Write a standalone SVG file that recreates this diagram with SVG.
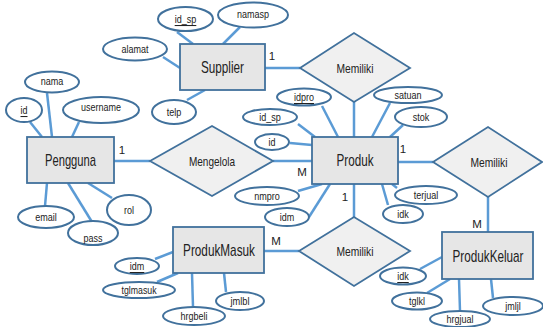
<svg xmlns="http://www.w3.org/2000/svg" width="543" height="327" viewBox="0 0 543 327">
<style>
.c{stroke:#5B9BD5;stroke-width:2.5;fill:none}
.e{fill:#ffffff;stroke:#41719C;stroke-width:2}
.r{fill:#E6E6E6;stroke:#41719C;stroke-width:1.8}
.d{fill:#F0F0F0;stroke:#41719C;stroke-width:1.8}
text{font-family:"Liberation Sans",Arial,sans-serif;fill:#222;text-anchor:middle;dominant-baseline:central}
.t{font-size:16px}
.m{font-size:13px}
.a{font-size:10.5px}
.l{font-size:11.5px}
.u{text-decoration:underline}
</style>
<rect width="543" height="327" fill="#ffffff"/>
<g id="connectors">
<line class="c" x1="177" y1="32" x2="193" y2="44"/>
<line class="c" x1="240" y1="27" x2="223" y2="44"/>
<line class="c" x1="163" y1="57" x2="180" y2="68"/>
<line class="c" x1="187" y1="100" x2="205" y2="90"/>
<line class="c" x1="265" y1="68" x2="300" y2="68"/>
<line class="c" x1="354" y1="102" x2="354" y2="137"/>
<line class="c" x1="322" y1="106" x2="338" y2="137"/>
<line class="c" x1="298" y1="124" x2="315" y2="137"/>
<line class="c" x1="290" y1="143" x2="312" y2="145"/>
<line class="c" x1="390" y1="103" x2="372" y2="137"/>
<line class="c" x1="403" y1="125" x2="390" y2="137"/>
<line class="c" x1="273" y1="161" x2="312" y2="161"/>
<line class="c" x1="298" y1="191" x2="322" y2="184"/>
<line class="c" x1="309" y1="217" x2="330" y2="184"/>
<line class="c" x1="397" y1="188" x2="392" y2="184"/>
<line class="c" x1="388" y1="205" x2="382" y2="184"/>
<line class="c" x1="114" y1="161" x2="150" y2="161"/>
<line class="c" x1="47" y1="93" x2="52" y2="137"/>
<line class="c" x1="30" y1="122" x2="42" y2="137"/>
<line class="c" x1="79" y1="122" x2="72" y2="137"/>
<line class="c" x1="47" y1="183" x2="45" y2="206"/>
<line class="c" x1="68" y1="183" x2="92" y2="222"/>
<line class="c" x1="88" y1="183" x2="112" y2="198"/>
<line class="c" x1="354" y1="184" x2="354" y2="217"/>
<line class="c" x1="264" y1="251" x2="299" y2="251"/>
<line class="c" x1="155" y1="259" x2="173" y2="252"/>
<line class="c" x1="157" y1="282" x2="178" y2="273"/>
<line class="c" x1="193" y1="307" x2="192" y2="273"/>
<line class="c" x1="226" y1="292" x2="224" y2="273"/>
<line class="c" x1="398" y1="162" x2="433" y2="162"/>
<line class="c" x1="488" y1="197" x2="488" y2="232"/>
<line class="c" x1="420" y1="269" x2="442" y2="257"/>
<line class="c" x1="427" y1="293" x2="450" y2="279"/>
<line class="c" x1="460" y1="311" x2="459" y2="279"/>
<line class="c" x1="493" y1="298" x2="491" y2="279"/>
</g>
<g id="labels">
<text class="l" x="272" y="56">1</text>
<text class="l" x="122" y="150">1</text>
<text class="l" x="403" y="149">1</text>
<text class="l" x="302" y="172">M</text>
<text class="l" x="345" y="197">1</text>
<text class="l" x="276" y="241">M</text>
<text class="l" x="477" y="224">M</text>
</g>
<g id="supplier"><rect class="r" x="180" y="44" width="85" height="46"/><text class="t" transform="translate(222.5,67) scale(0.733,1)">Supplier</text></g>
<g id="supplier-id_sp"><ellipse class="e" cx="185.5" cy="19" rx="27.5" ry="12"/><text class="a u" x="185.5" y="19" textLength="21.6" lengthAdjust="spacingAndGlyphs">id_sp</text></g>
<g id="supplier-namasp"><ellipse class="e" cx="253" cy="15" rx="35" ry="12.5"/><text class="a" x="253" y="14" textLength="32" lengthAdjust="spacingAndGlyphs">namasp</text></g>
<g id="supplier-alamat"><ellipse class="e" cx="135" cy="49" rx="32" ry="11.5"/><text class="a" x="135" y="49" textLength="27" lengthAdjust="spacingAndGlyphs">alamat</text></g>
<g id="supplier-telp"><ellipse class="e" cx="174" cy="112" rx="22" ry="12"/><text class="a" x="174" y="112" textLength="14.6" lengthAdjust="spacingAndGlyphs">telp</text></g>
<g id="memiliki-supplier"><polygon class="d" points="300,68 354,33 410,68 354,102"/><text class="m" transform="translate(355,68) scale(0.79,1)">Memiliki</text></g>
<g id="produk"><rect class="r" x="312" y="137" width="86" height="47"/><text class="t" transform="translate(355,160) scale(0.73,1)">Produk</text></g>
<g id="produk-idpro"><ellipse class="e" cx="304" cy="97" rx="27" ry="8.5"/><text class="a u" x="304" y="97" textLength="20" lengthAdjust="spacingAndGlyphs">idpro</text></g>
<g id="produk-id_sp"><ellipse class="e" cx="270" cy="117" rx="27" ry="8"/><text class="a" x="270" y="117" textLength="21.6" lengthAdjust="spacingAndGlyphs">id_sp</text></g>
<g id="produk-id"><ellipse class="e" cx="272" cy="142" rx="17" ry="8"/><text class="a" x="272" y="142" textLength="7" lengthAdjust="spacingAndGlyphs">id</text></g>
<g id="produk-satuan"><ellipse class="e" cx="408" cy="95" rx="34" ry="8"/><text class="a" x="408" y="95" textLength="27" lengthAdjust="spacingAndGlyphs">satuan</text></g>
<g id="produk-stok"><ellipse class="e" cx="421" cy="117" rx="26" ry="10"/><text class="a" x="421" y="117" textLength="16.6" lengthAdjust="spacingAndGlyphs">stok</text></g>
<g id="produk-nmpro"><ellipse class="e" cx="267" cy="196" rx="32" ry="9"/><text class="a" x="267" y="196" textLength="25.6" lengthAdjust="spacingAndGlyphs">nmpro</text></g>
<g id="produk-idm"><ellipse class="e" cx="287" cy="217" rx="22" ry="9"/><text class="a" x="287" y="217" textLength="14.5" lengthAdjust="spacingAndGlyphs">idm</text></g>
<g id="produk-terjual"><ellipse class="e" cx="426" cy="195" rx="31" ry="9"/><text class="a" x="426" y="195" textLength="24.6" lengthAdjust="spacingAndGlyphs">terjual</text></g>
<g id="produk-idk"><ellipse class="e" cx="403" cy="214" rx="20" ry="9"/><text class="a" x="403" y="214" textLength="11.5" lengthAdjust="spacingAndGlyphs">idk</text></g>
<g id="pengguna"><rect class="r" x="27" y="137" width="87" height="46"/><text class="t" transform="translate(70.5,160) scale(0.70,1)">Pengguna</text></g>
<g id="pengguna-nama"><ellipse class="e" cx="52" cy="82" rx="27" ry="10.5"/><text class="a" x="52" y="81" textLength="22.6" lengthAdjust="spacingAndGlyphs">nama</text></g>
<g id="pengguna-id"><ellipse class="e" cx="24" cy="110" rx="18" ry="12"/><text class="a u" x="24" y="110" textLength="7" lengthAdjust="spacingAndGlyphs">id</text></g>
<g id="pengguna-username"><ellipse class="e" cx="101" cy="110" rx="38" ry="13"/><text class="a" x="101" y="107" textLength="40" lengthAdjust="spacingAndGlyphs">username</text></g>
<g id="pengguna-email"><ellipse class="e" cx="46" cy="217" rx="28" ry="11"/><text class="a" x="46" y="217" textLength="21.6" lengthAdjust="spacingAndGlyphs">email</text></g>
<g id="pengguna-pass"><ellipse class="e" cx="93" cy="233" rx="25" ry="12"/><text class="a" x="93" y="238" textLength="19" lengthAdjust="spacingAndGlyphs">pass</text></g>
<g id="pengguna-rol"><ellipse class="e" cx="129" cy="210" rx="22" ry="15"/><text class="a" x="129" y="210" textLength="10" lengthAdjust="spacingAndGlyphs">rol</text></g>
<g id="mengelola"><polygon class="d" points="150,161 212,126 273,161 212,196"/><text class="m" transform="translate(212,161) scale(0.77,1)">Mengelola</text></g>
<g id="memiliki-masuk"><polygon class="d" points="299,251 354,217 410,251 354,286"/><text class="m" transform="translate(355,251) scale(0.79,1)">Memiliki</text></g>
<g id="produkmasuk"><rect class="r" x="173" y="227" width="91" height="46"/><text class="t" transform="translate(219,250) scale(0.736,1)">ProdukMasuk</text></g>
<g id="produkmasuk-idm"><ellipse class="e" cx="137" cy="266" rx="22" ry="8"/><text class="a u" x="137" y="266" textLength="14.5" lengthAdjust="spacingAndGlyphs">idm</text></g>
<g id="produkmasuk-tglmasuk"><ellipse class="e" cx="139" cy="290" rx="36" ry="8"/><text class="a" x="139" y="290" textLength="35" lengthAdjust="spacingAndGlyphs">tglmasuk</text></g>
<g id="produkmasuk-hrgbeli"><ellipse class="e" cx="194" cy="316" rx="31" ry="9"/><text class="a" x="194" y="316" textLength="27" lengthAdjust="spacingAndGlyphs">hrgbeli</text></g>
<g id="produkmasuk-jmlbl"><ellipse class="e" cx="240" cy="301" rx="24" ry="9"/><text class="a" x="240" y="301" textLength="19" lengthAdjust="spacingAndGlyphs">jmlbl</text></g>
<g id="memiliki-keluar"><polygon class="d" points="433,162 488,127 542,162 488,197"/><text class="m" transform="translate(489,162) scale(0.79,1)">Memiliki</text></g>
<g id="produkkeluar"><rect class="r" x="442" y="232" width="91" height="47"/><text class="t" transform="translate(488,256) scale(0.733,1)">ProdukKeluar</text></g>
<g id="produkkeluar-idk"><ellipse class="e" cx="403" cy="276" rx="23" ry="8.5"/><text class="a u" x="403" y="276" textLength="11.5" lengthAdjust="spacingAndGlyphs">idk</text></g>
<g id="produkkeluar-tglkl"><ellipse class="e" cx="417" cy="301" rx="25" ry="8.5"/><text class="a" x="417" y="301" textLength="16" lengthAdjust="spacingAndGlyphs">tglkl</text></g>
<g id="produkkeluar-hrgjual"><ellipse class="e" cx="460" cy="319" rx="30" ry="8"/><text class="a" x="460" y="319" textLength="27" lengthAdjust="spacingAndGlyphs">hrgjual</text></g>
<g id="produkkeluar-jmljl"><ellipse class="e" cx="513" cy="306" rx="30" ry="9"/><text class="a" x="513" y="306" textLength="15.5" lengthAdjust="spacingAndGlyphs">jmljl</text></g>
</svg>
